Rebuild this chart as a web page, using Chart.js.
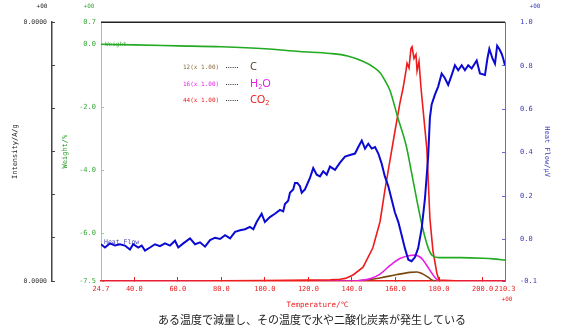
<!DOCTYPE html>
<html>
<head>
<meta charset="utf-8">
<script src="https://cdn.jsdelivr.net/npm/chart.js@4.4.1/dist/chart.umd.min.js"></script>
<style>
    body { margin: 0; background: #ffffff; }
    #caja { width: 567px; height: 328px; }
</style>
</head>
<body>
<div id="caja"><canvas id="grafica"></canvas></div>
<script>
// Temperatura (°C) y peso (%)
const tempWeight = [24.7, 40, 60, 80, 100, 116, 130, 138, 145, 150, 153, 155, 157.5, 161, 165, 167, 170, 172.5, 175, 177, 180, 190, 200, 205, 210.3];
const weight = [0.0, -0.02, -0.05, -0.08, -0.14, -0.23, -0.29, -0.37, -0.54, -0.73, -0.91, -1.13, -1.47, -2.31, -3.24, -3.93, -5.01, -5.83, -6.45, -6.70, -6.76, -6.76, -6.78, -6.80, -6.84];

// Heat Flow (μV)
const tempHeat = [24.7, 26.5, 28.8, 31.1, 33.4, 35.7, 38.0, 39.5, 41.8, 43.4, 44.9, 47.2, 49.5, 51.8, 54.1, 56.4, 58.7, 60.2, 62.5, 65.6, 67.9, 70.2, 72.5, 74.8, 77.1, 79.4, 81.7, 84.0, 86.3, 88.6, 90.9, 93.1, 94.7, 96.2, 98.5, 100.0, 102.3, 104.6, 106.9, 108.4, 109.2, 110.7, 111.5, 113.0, 113.8, 114.9, 116.1, 116.9, 118.4, 120.7, 122.2, 123.8, 125.3, 126.8, 128.4, 129.9, 132.2, 134.5, 136.8, 139.1, 141.4, 142.9, 144.5, 146.0, 147.5, 149.1, 150.6, 152.1, 153.6, 155.1, 156.7, 158.2, 159.7, 161.3, 162.8, 164.3, 165.9, 167.4, 168.9, 170.4, 172.0, 173.5, 175.0, 175.8, 176.6, 178.1, 179.6, 181.2, 182.7, 184.2, 185.8, 187.3, 188.8, 190.4, 191.9, 193.4, 195.0, 197.3, 198.8, 201.1, 202.2, 203.1, 204.6, 205.7, 206.7, 207.7, 208.8, 209.5, 210.3];
const heatFlow = [-0.021, -0.036, -0.017, -0.027, -0.021, -0.027, -0.045, -0.021, -0.036, -0.027, -0.050, -0.036, -0.021, -0.030, -0.017, -0.027, -0.005, -0.036, -0.017, 0.006, -0.021, -0.012, -0.032, -0.002, 0.009, 0.003, 0.021, 0.006, 0.036, 0.043, 0.048, 0.059, 0.048, 0.081, 0.119, 0.081, 0.104, 0.119, 0.137, 0.130, 0.164, 0.179, 0.216, 0.231, 0.261, 0.261, 0.246, 0.216, 0.231, 0.284, 0.329, 0.299, 0.291, 0.314, 0.299, 0.336, 0.321, 0.354, 0.382, 0.389, 0.396, 0.426, 0.456, 0.419, 0.441, 0.419, 0.426, 0.396, 0.351, 0.291, 0.246, 0.186, 0.126, 0.081, 0.021, -0.039, -0.092, -0.099, -0.081, -0.039, 0.051, 0.186, 0.382, 0.560, 0.622, 0.667, 0.704, 0.764, 0.742, 0.712, 0.757, 0.802, 0.779, 0.802, 0.779, 0.802, 0.787, 0.824, 0.764, 0.757, 0.832, 0.877, 0.832, 0.809, 0.892, 0.877, 0.854, 0.832, 0.802];

// Intensidad MS: m/z 44 (CO2), 16 (H2O), 12 (C)
const tempCO2 = [24.7, 60, 100, 120, 130, 134.5, 137, 140.5, 145.1, 149.6, 152.9, 155.2, 157.5, 159.7, 162.0, 163.5, 164.8, 165.3, 166.2, 167.1, 167.6, 168.5, 169.4, 169.9, 170.8, 171.7, 173.1, 174.4, 175.8, 177.2, 179.0, 180.0, 190, 210.3];
const co2 = [0.0, 0.0, 0.01, 0.02, 0.03, 0.04, 0.06, 0.14, 0.32, 0.77, 1.38, 2.13, 2.81, 3.46, 4.12, 4.48, 4.87, 5.05, 4.94, 5.39, 5.43, 5.16, 5.25, 4.87, 5.09, 4.48, 3.74, 3.06, 1.45, 0.70, 0.18, 0.02, 0.0, 0.0];

const tempH2O = [24.7, 140, 145.1, 148.3, 152.9, 157.5, 162.0, 166.6, 168.9, 172.1, 174.4, 176.7, 179.0, 180.5, 210.3];
const h2o = [0.0, 0.0, 0.02, 0.05, 0.16, 0.36, 0.52, 0.59, 0.60, 0.52, 0.36, 0.18, 0.03, 0.0, 0.0];

const tempC = [24.7, 140.4, 146.2, 152.9, 160.7, 166.6, 169.9, 172.6, 174.9, 177.2, 178, 210.3];
const carbon = [0.0, 0.0, 0.02, 0.07, 0.15, 0.20, 0.21, 0.16, 0.09, 0.01, 0.0, 0.0];

// Marcas de los ejes
const tempTicks = [24.7, 40, 60, 80, 100, 120, 140, 160, 180, 200, 210.3];
const weightTicks = [-7.5, -6, -4, -2, 0, 0.7];
const heatTicks = [-0.19, 0, 0.2, 0.4, 0.6, 0.8, 1.0];
const intensityTicks = [0, 1, 2, 3, 4, 5, 6];

const MONO = '"DejaVu Sans Mono", monospace';
const VERDE = '#22aa22';
const AZUL = '#0a0ad2';
const ROJO = '#ee1c1c';
const MAGENTA = '#e41ee4';
const CAFE = '#7a4810';

function pares(xs, ys) {
    return xs.map((x, i) => ({ x: x, y: ys[i] }));
}

function fijarTicks(valores) {
    return scale => {
        scale.ticks = valores.map(v => ({ value: v }));
    };
}

function textoFormula(ctx, partes, x, y, color) {
    ctx.fillStyle = color;
    partes.forEach(([t, sub]) => {
        ctx.font = sub ? '7px "Noto Sans"' : '11px "Noto Sans"';
        ctx.fillText(t, x, sub ? y + 3 : y);
        x += ctx.measureText(t).width;
    });
}

const textosExtra = {
    id: 'textosExtra',
    beforeDatasetsDraw(chart) {
        const { ctx, chartArea, scales } = chart;
        ctx.save();
        ctx.textBaseline = 'middle';
        ctx.textAlign = 'left';
        ctx.font = `6px ${MONO}`;
        ctx.fillStyle = '#55b055';
        ctx.fillText('Weight', chartArea.left + 4, scales.yW.getPixelForValue(0));
        ctx.font = `6.5px ${MONO}`;
        ctx.fillStyle = '#4646b8';
        ctx.fillText('Heat Flow', chartArea.left + 3, scales.yHF.getPixelForValue(-0.01));
        ctx.restore();
    },
    afterDraw(chart) {
        const { ctx, chartArea, scales } = chart;
        ctx.save();

        // borde superior
        ctx.strokeStyle = '#222222';
        ctx.lineWidth = 1.5;
        ctx.beginPath();
        ctx.moveTo(chartArea.left, chartArea.top);
        ctx.lineTo(chartArea.right, chartArea.top);
        ctx.stroke();

        // exponentes de los ejes
        ctx.font = `6px ${MONO}`;
        ctx.textAlign = 'center';
        ctx.textBaseline = 'middle';
        ctx.fillStyle = '#222222';
        ctx.fillText('+00', scales.yInt.right - 10, 6);
        ctx.fillStyle = '#3aa83a';
        ctx.fillText('+00', scales.yW.right - 12, 6);
        ctx.fillStyle = '#3a3ab8';
        ctx.fillText('+00', scales.yHF.left + 30, 6);
        ctx.fillStyle = ROJO;
        ctx.fillText('+00', chartArea.right + 2, 299);

        // titulo del eje x
        ctx.font = `7.5px ${MONO}`;
        ctx.fillText('Temperature/℃', 317, 305);

        // leyenda
        const filas = [
            { y: 67, etiqueta: '12(x 1.00)', color: '#8b6b3d', formula: [['C', false]], colorF: '#5a4a3a' },
            { y: 84, etiqueta: '16(x 1.00)', color: MAGENTA, formula: [['H', false], ['2', true], ['O', false]], colorF: MAGENTA },
            { y: 100, etiqueta: '44(x 1.00)', color: ROJO, formula: [['CO', false], ['2', true]], colorF: ROJO }
        ];
        filas.forEach(f => {
            ctx.textAlign = 'left';
            ctx.font = `6px ${MONO}`;
            ctx.fillStyle = f.color;
            ctx.fillText(f.etiqueta, 183, f.y);
            ctx.strokeStyle = '#333333';
            ctx.lineWidth = 1;
            ctx.setLineDash([1, 1.2]);
            ctx.beginPath();
            ctx.moveTo(226, f.y + 0.5);
            ctx.lineTo(238, f.y + 0.5);
            ctx.stroke();
            ctx.setLineDash([]);
            textoFormula(ctx, f.formula, 250, f.y, f.colorF);
        });

        // leyenda inferior
        ctx.textAlign = 'center';
        ctx.font = '11px "Noto Sans CJK JP"';
        ctx.fillStyle = '#222222';
        ctx.fillText('ある温度で減量し、その温度で水や二酸化炭素が発生している', 312, 320);

        ctx.restore();
    }
};

new Chart(document.getElementById('grafica'), {
    type: 'line',
    data: {
        datasets: [
            {
                label: 'Heat Flow',
                data: pares(tempHeat, heatFlow),
                yAxisID: 'yHF',
                borderColor: AZUL,
                borderWidth: 2,
                pointRadius: 0,
                tension: 0
            },
            {
                label: 'Weight',
                data: pares(tempWeight, weight),
                yAxisID: 'yW',
                borderColor: VERDE,
                borderWidth: 1.6,
                pointRadius: 0,
                cubicInterpolationMode: 'monotone'
            },
            {
                label: 'CO2',
                data: pares(tempCO2, co2),
                yAxisID: 'yInt',
                borderColor: ROJO,
                borderWidth: 1.6,
                pointRadius: 0,
                tension: 0
            },
            {
                label: 'H2O',
                data: pares(tempH2O, h2o),
                yAxisID: 'yInt',
                borderColor: MAGENTA,
                borderWidth: 1.6,
                pointRadius: 0,
                cubicInterpolationMode: 'monotone'
            },
            {
                label: 'C',
                data: pares(tempC, carbon),
                yAxisID: 'yInt',
                borderColor: CAFE,
                borderWidth: 1.6,
                pointRadius: 0,
                cubicInterpolationMode: 'monotone'
            }
        ]
    },
    options: {
        responsive: true,
        maintainAspectRatio: false,
        animation: false,
        layout: { padding: { top: 16, left: 0, right: 0, bottom: 0 } },
        plugins: {
            legend: { display: false },
            tooltip: { enabled: false }
        },
        scales: {
            x: {
                type: 'linear',
                position: 'bottom',
                min: 24.7,
                max: 210.3,
                afterBuildTicks: fijarTicks(tempTicks),
                afterFit: s => { s.height = 47; },
                ticks: {
                    autoSkip: false,
                    maxRotation: 0,
                    padding: 8,
                    color: ROJO,
                    font: { family: MONO, size: 7 },
                    callback: v => v.toFixed(1)
                },
                grid: { drawOnChartArea: false, tickLength: -4, color: ROJO },
                border: { color: ROJO, width: 1.5 }
            },
            yInt: {
                type: 'linear',
                position: 'left',
                weight: 2,
                min: 0,
                max: 6,
                afterBuildTicks: fijarTicks(intensityTicks),
                afterFit: s => { s.width = 52; },
                ticks: {
                    padding: 8,
                    color: '#333333',
                    font: { family: MONO, size: 6.5 },
                    callback: v => (v === 0 || v === 6) ? '0.0000' : ''
                },
                grid: { drawOnChartArea: false, tickLength: -3, color: '#444444' },
                border: { color: '#444444', width: 1.5 },
                title: {
                    display: true,
                    text: 'Intensity/A/g',
                    color: '#222222',
                    font: { family: MONO, size: 7 },
                    padding: { top: 11, bottom: 0 }
                }
            },
            yW: {
                type: 'linear',
                position: 'left',
                weight: 1,
                min: -7.5,
                max: 0.7,
                afterBuildTicks: fijarTicks(weightTicks),
                afterFit: s => { s.width = 49; },
                ticks: {
                    padding: 8,
                    color: '#3aa83a',
                    font: { family: MONO, size: 7 },
                    callback: v => v.toFixed(1)
                },
                grid: { drawOnChartArea: false, tickLength: -3, color: '#8fd08f' },
                border: { color: '#8fd08f', width: 1 },
                title: {
                    display: true,
                    text: 'Weight/%',
                    color: '#2a9a2a',
                    font: { family: MONO, size: 7 },
                    padding: { top: 9, bottom: 0 }
                }
            },
            yHF: {
                type: 'linear',
                position: 'right',
                min: -0.19,
                max: 1.0,
                afterBuildTicks: fijarTicks(heatTicks),
                afterFit: s => { s.width = 62; },
                ticks: {
                    padding: 18,
                    color: '#3a3ab8',
                    font: { family: MONO, size: 7 },
                    callback: v => v < -0.05 ? '-0.1' : v.toFixed(1)
                },
                grid: { drawOnChartArea: false, tickLength: -3, color: '#6a6ad0' },
                border: { color: '#6a6ad0', width: 1 },
                title: {
                    display: true,
                    text: 'Heat Flow/μV',
                    color: '#3a3ab8',
                    font: { family: MONO, size: 7 },
                    padding: { top: 16, bottom: 0 }
                }
            }
        }
    },
    plugins: [textosExtra]
});
</script>
</body>
</html>
